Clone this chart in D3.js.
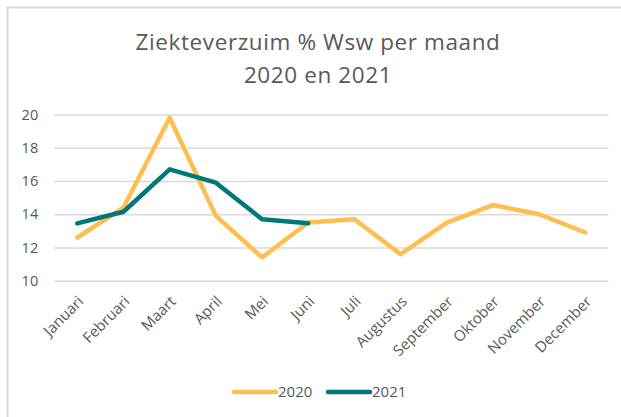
<!DOCTYPE html>
<html>
<head>
<meta charset="utf-8">
<script src="https://cdn.jsdelivr.net/npm/d3@7"></script>
<style>
  body { margin: 0; background: #fff; }
  svg text { font-family: "Open Sans", Lato, sans-serif; fill: #595959; }
</style>
</head>
<body>
<div class="chart"></div>
<script>
var months = ["Januari", "Februari", "Maart", "April", "Mei", "Juni", "Juli",
  "Augustus", "September", "Oktober", "November", "December"];
var values2020 = [12.6, 14.4, 19.8, 13.9, 11.4, 13.5, 13.7, 11.6, 13.5, 14.55, 14.0, 12.9];
var values2021 = [13.45, 14.15, 16.7, 15.9, 13.7, 13.45];
var yTicks = [10, 12, 14, 16, 18, 20];
var titleLines = ["Ziekteverzuim % Wsw per maand", "2020 en 2021"];

var series = [
  { name: "2020", values: values2020, color: "#ffbe50" },
  { name: "2021", values: values2021, color: "#00787a" }
];

var baseWidth = 621, baseHeight = 417;
var margin = { top: 114.5, right: 12.6, bottom: 136.3, left: 54.2 },
  width = baseWidth - margin.left - margin.right,
  height = baseHeight - margin.top - margin.bottom;

var svg = d3.select(".chart")
  .append("svg")
  .attr("width", baseWidth)
  .attr("height", baseHeight);

// chart area border (runs off the right and bottom edge)
svg.append("rect")
  .attr("x", 7.5).attr("y", 7.5)
  .attr("width", 640).attr("height", 440)
  .attr("fill", "none")
  .attr("stroke", "#d9d9d9")
  .attr("stroke-width", 2);

svg.selectAll(".title")
  .data(titleLines)
  .enter()
  .append("text")
  .attr("class", "title")
  .attr("x", 318)
  .attr("y", function(d, i) { return 50 + i * 33; })
  .attr("text-anchor", "middle")
  .style("font-size", "22.5px")
  .style("letter-spacing", "0.6px")
  .text(function(d) { return d; });

var chart = svg.append("g")
  .attr("transform", "translate(" + margin.left + "," + margin.top + ")");

var xScale = d3.scalePoint()
  .domain(months)
  .range([0, width])
  .padding(0.5);

var yScale = d3.scaleLinear()
  .domain([10, 20])
  .range([height, 0]);

// gridlines
chart.append("g")
  .attr("class", "grid")
  .call(d3.axisLeft(yScale).tickValues(yTicks).tickSize(-width).tickFormat(""))
  .call(function(g) {
    g.select(".domain").remove();
    g.selectAll("line").attr("stroke", "#d9d9d9").attr("stroke-width", 1.5);
  });

// y axis labels
chart.append("g")
  .attr("class", "y axis")
  .call(d3.axisLeft(yScale).tickValues(yTicks).tickSize(0).tickPadding(16))
  .call(function(g) {
    g.select(".domain").remove();
    g.selectAll("text").style("font-size", "14.5px").attr("fill", "#595959");
  });

// x axis labels, rotated
chart.append("g")
  .attr("class", "x axis")
  .attr("transform", "translate(0," + height + ")")
  .call(d3.axisBottom(xScale).tickSize(0).tickPadding(0))
  .call(function(g) {
    g.select(".domain").remove();
    g.selectAll("text")
      .style("font-size", "15px")
      .attr("fill", "#595959")
      .attr("text-anchor", "end")
      .attr("dy", "0.35em")
      .attr("transform", "translate(3,18) rotate(-45)");
  });

var line = d3.line()
  .x(function(d, i) { return xScale(months[i]); })
  .y(function(d) { return yScale(d); });

chart.selectAll(".series")
  .data(series)
  .enter()
  .append("path")
  .attr("class", "series")
  .attr("fill", "none")
  .attr("stroke", function(d) { return d.color; })
  .attr("stroke-width", 4.5)
  .attr("stroke-linejoin", "round")
  .attr("stroke-linecap", "round")
  .attr("d", function(d) { return line(d.values); });

// legend
var legend = svg.selectAll(".legend")
  .data(series)
  .enter()
  .append("g")
  .attr("class", "legend")
  .attr("transform", function(d, i) { return "translate(" + (234 + i * 94) + ",392)"; });

legend.append("line")
  .attr("x1", 0).attr("x2", 42)
  .attr("stroke", function(d) { return d.color; })
  .attr("stroke-width", 4.5)
  .attr("stroke-linecap", "round");

legend.append("text")
  .attr("x", 44)
  .attr("dy", "0.35em")
  .style("font-size", "15px")
  .text(function(d) { return d.name; });
</script>
</body>
</html>
